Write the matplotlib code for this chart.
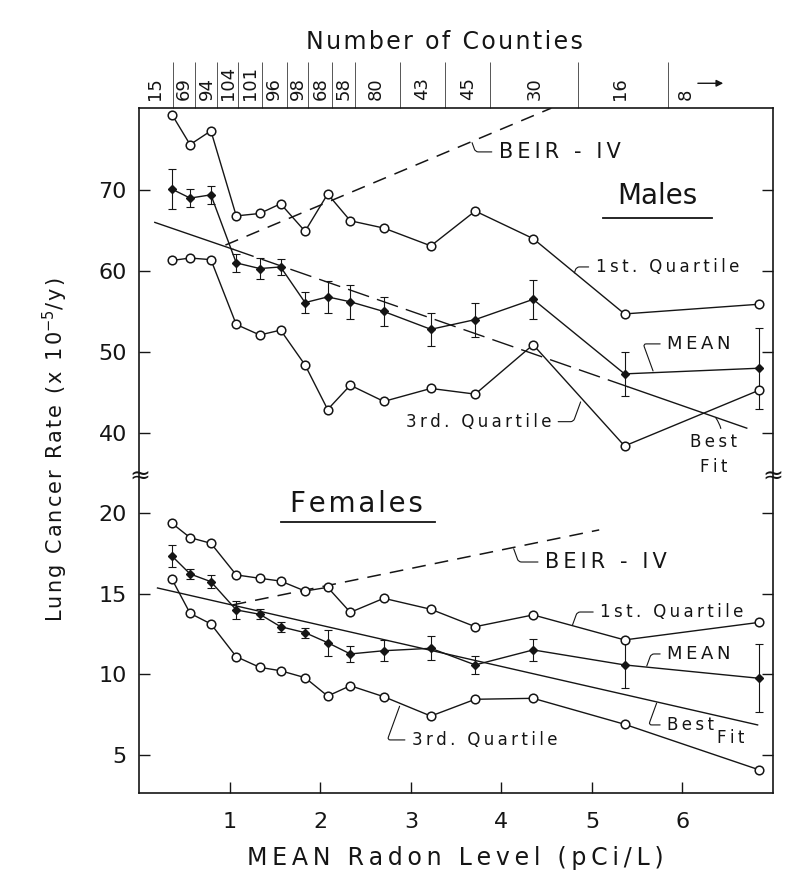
import matplotlib

matplotlib.use("Agg")
import matplotlib.pyplot as plt

# mean radon level of each county group (pCi/L)
radon = [0.36, 0.56, 0.79, 1.07, 1.33, 1.56, 1.83, 2.08, 2.33, 2.70, 3.22, 3.71, 4.35, 5.36, 6.85]

males_q1 = [79.3, 75.6, 77.3, 66.8, 67.1, 68.3, 64.9, 69.5, 66.2, 65.3, 63.1, 67.4, 64.0, 54.7, 55.9]
males_mean = [70.1, 69.0, 69.4, 61.0, 60.3, 60.5, 56.1, 56.8, 56.2, 55.0, 52.8, 54.0, 56.5, 47.3, 48.0]
males_err = [2.5, 1.1, 1.1, 1.1, 1.3, 1.0, 1.3, 2.0, 2.1, 1.8, 2.0, 2.1, 2.4, 2.7, 5.0]
males_q3 = [61.3, 61.6, 61.4, 53.4, 52.1, 52.7, 48.4, 42.9, 45.9, 43.9, 45.5, 44.8, 50.9, 38.4, 45.3]

females_q1 = [19.36, 18.47, 18.12, 16.16, 15.95, 15.78, 15.16, 15.39, 13.84, 14.71, 14.03, 12.95,
              13.68, 12.13, 13.22]
females_mean = [17.33, 16.22, 15.74, 13.99, 13.72, 12.95, 12.58, 11.96, 11.26, 11.46, 11.61, 10.58,
                11.51, 10.58, 9.75]
females_err = [0.67, 0.3, 0.4, 0.55, 0.3, 0.3, 0.3, 0.8, 0.5, 0.65, 0.75, 0.55, 0.7, 1.4, 2.1]
females_q3 = [15.89, 13.78, 13.12, 11.09, 10.43, 10.22, 9.79, 8.65, 9.29, 8.61, 7.41, 8.45, 8.51,
              6.90, 4.07]

# BEIR-IV prediction and least squares fit (line end points)
beir_m_x = [0.95, 4.55]
beir_m_y = [63.2, 80.1]
beir_f_x = [1.03, 5.08]
beir_f_y = [14.3, 18.95]
fit_m_x = [0.17, 1.03, 5.4, 6.71]
fit_m_y = [66.0, 62.7, 45.7, 40.6]
fit_f_x = [0.2, 6.83]
fit_f_y = [15.35, 6.86]

# top scale: number of counties in each group
county_edges = [0.37, 0.61, 0.86, 1.09, 1.36, 1.63, 1.86, 2.13, 2.38, 2.88, 3.38, 3.87, 4.85, 5.84]
county_pos = [0.17, 0.49, 0.74, 0.98, 1.22, 1.49, 1.75, 2.0, 2.26, 2.61, 3.12, 3.63, 4.37, 5.31, 6.04]
county_n = ["15", "69", "94", "104", "101", "96", "98", "68", "58", "80", "43", "45", "30", "16", "8"]

males_ticks = [40, 50, 60, 70]
females_ticks = [5, 10, 15, 20]
radon_ticks = [1, 2, 3, 4, 5, 6]

INK = "#151515"
THIN, HAIR = "\u2009", "\u200a"
plt.rcParams["font.family"] = ["DejaVu Sans"]


def track(s, sep=THIN):
    # the original lettering is widely spaced
    return sep.join(s)


fig = plt.figure(figsize=(7.87, 8.82), dpi=100)
W, H = 787.0, 882.0
left, right = 139.4 / W, 773.0 / W
ax_m = fig.add_axes([left, 1 - 477 / H, right - left, 369 / H])
ax_f = fig.add_axes([left, 1 - 793 / H, right - left, 316 / H])

for ax in (ax_m, ax_f):
    ax.set_xlim(0, 7.0)
    for s in ax.spines.values():
        s.set_linewidth(1.2)
        s.set_color(INK)
    ax.tick_params(direction="in", length=8, width=1.0, color=INK, labelsize=16,
                   labelcolor=INK, left=True, right=True, pad=9)
ax_m.spines["bottom"].set_visible(False)
ax_f.spines["top"].set_visible(False)
ax_m.set_ylim(34.57, 80.12)
ax_f.set_ylim(2.64, 22.23)
ax_m.set_yticks(males_ticks)
ax_f.set_yticks(females_ticks)
ax_m.tick_params(bottom=False, labelbottom=False)
ax_f.set_xticks(radon_ticks)
ax_f.tick_params(axis="x", pad=14)

line_kw = dict(color=INK, lw=1.0)
open_kw = dict(marker="o", ms=6.2, mfc="white", mec=INK, mew=1.1, zorder=4)
mean_kw = dict(fmt="-D", ms=4.5, mfc=INK, mec=INK, ecolor=INK, elinewidth=0.8,
               capsize=3, capthick=0.8, color=INK, lw=1.0, zorder=3)


def panel(ax, q1, mean, err, q3, bx, by):
    ax.plot(radon, q1, **line_kw, **open_kw)
    ax.plot(radon, q3, **line_kw, **open_kw)
    ax.errorbar(radon, mean, yerr=err, **mean_kw)
    ax.plot(bx, by, color=INK, lw=1.1, dashes=(9, 6))


panel(ax_m, males_q1, males_mean, males_err, males_q3, beir_m_x, beir_m_y)
panel(ax_f, females_q1, females_mean, females_err, females_q3, beir_f_x, beir_f_y)

# best fit lines (males partly dashed in the original)
ax_m.plot(fit_m_x[:2], fit_m_y[:2], color=INK, lw=1.0)
ax_m.plot(fit_m_x[1:3], fit_m_y[1:3], color=INK, lw=1.0, dashes=(16, 6))
ax_m.plot(fit_m_x[2:], fit_m_y[2:], color=INK, lw=1.0)
ax_f.plot(fit_f_x, fit_f_y, color=INK, lw=1.0)


def note(ax, text, xy, xytext, size=12, ha="left", angle_b=70):
    ax.annotate(text, xy=xy, xytext=xytext, fontsize=size, ha=ha, va="center", color=INK,
                arrowprops=dict(arrowstyle="-", lw=0.8, color=INK, shrinkA=3, shrinkB=1,
                                connectionstyle=f"angle,angleA=0,angleB={angle_b},rad=3"))


# males labels
note(ax_m, track("BEIR - IV"), (3.67, 76.0), (3.97, 74.7), size=15, angle_b=-70)
note(ax_m, track("1st. Quartile"), (4.80, 59.6), (5.04, 60.5))
note(ax_m, track("MEAN"), (5.68, 47.5), (5.83, 51.0), size=13, angle_b=110)
note(ax_m, track("3rd. Quartile"), (4.88, 44.0), (4.55, 41.4), ha="right")
ax_m.annotate(track("Best") + "\n" + track("Fit"), xy=(6.36, 42.0), xytext=(6.34, 37.4),
              fontsize=12, ha="center", va="center", color=INK, linespacing=1.5,
              arrowprops=dict(arrowstyle="-", lw=0.8, color=INK, shrinkA=1, shrinkB=1,
                              connectionstyle="arc3,rad=0.4"))
ax_m.text(5.72, 69.2, "Males", fontsize=20, ha="center", va="center", color=INK)
ax_m.plot([5.12, 6.33], [66.6, 66.6], color=INK, lw=1.3)

# females labels
note(ax_f, track("BEIR - IV"), (4.13, 17.86), (4.48, 16.96), size=15, angle_b=-70)
note(ax_f, track("1st. Quartile"), (4.78, 12.98), (5.09, 13.86))
note(ax_f, track("MEAN"), (5.60, 10.43), (5.83, 11.26), size=13)
note(ax_f, track("Best"), (5.72, 8.3), (5.83, 6.86))
ax_f.text(6.38, 6.05, track("Fit"), fontsize=12, ha="left", va="center", color=INK)
note(ax_f, track("3rd. Quartile"), (2.88, 8.1), (3.01, 5.93))
ax_f.text(2.40, 20.55, track("Females", HAIR), fontsize=20, ha="center", va="center", color=INK)
ax_f.plot([1.56, 3.27], [19.44, 19.44], color=INK, lw=1.3)

# axis break marks
for xb in (0, 1):
    ax_f.text(xb, 1.0, "≈", transform=ax_f.transAxes, fontsize=18, ha="center", va="center",
              color=INK, clip_on=False)

# top scale: number of counties
top = ax_m.secondary_xaxis("top")
top.set_xticks(county_edges, labels=[""] * len(county_edges))
top.set_xticks(county_pos, labels=county_n, minor=True)
top.spines["top"].set_visible(False)
top.tick_params(which="major", direction="out", length=33, width=0.7, color="#555555")
top.tick_params(which="minor", length=0, labelsize=13, labelrotation=90, pad=6,
                labelcolor=INK)
ax_m.annotate("", xy=(6.45, 1.067), xytext=(6.17, 1.067),
              xycoords=ax_m.get_xaxis_transform(),
              arrowprops=dict(arrowstyle="-|>", lw=1.0, color=INK, mutation_scale=10,
                              shrinkA=0, shrinkB=0))
ax_m.text(3.37, 1.178, track("Number of Counties", HAIR), transform=ax_m.get_xaxis_transform(),
          fontsize=17, ha="center", va="center", color=INK)

fig.text(55 / W, 1 - 450 / H,
         track("Lung Cancer Rate (x 10", HAIR) + "$^{-5}$" + track("/y)", HAIR),
         rotation=90, fontsize=15, ha="center", va="center", color=INK)
fig.text(455 / W, 1 - 858 / H, track("MEAN Radon Level (pCi/L)"), fontsize=17,
         ha="center", va="center", color=INK)

fig.savefig("out.png", dpi=100, facecolor="white")
